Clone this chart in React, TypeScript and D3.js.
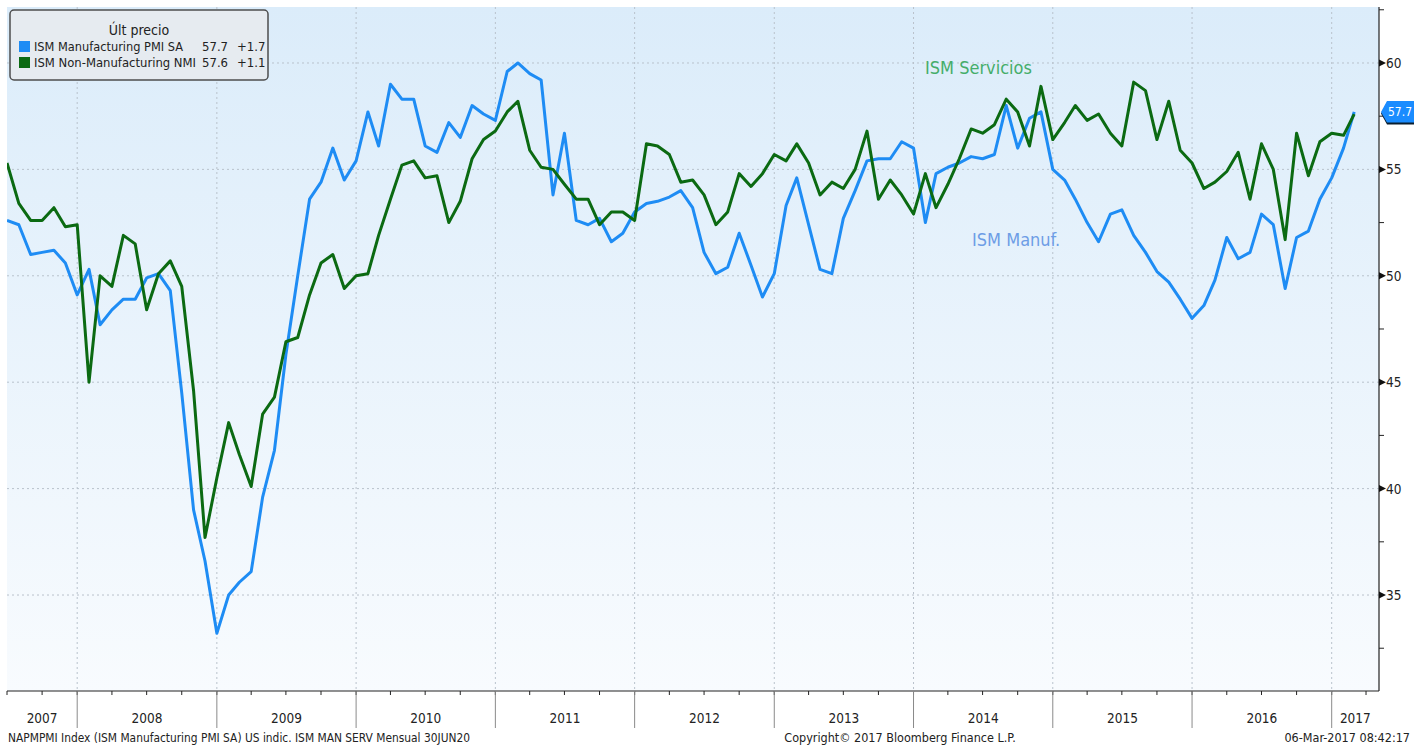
import React from "react";
import * as d3 from "d3";

// ---- Data (monthly, Jun 2007 .. Feb 2017) ----
const startYear = 2007;
const startMonth = 5; // June (0-based)

const manufacturing: number[] = [
  52.6, 52.4, 51.0, 51.1, 51.2, 50.6, 49.1,
  50.3, 47.7, 48.4, 48.9, 48.9, 49.9, 50.1, 49.3, 44.5, 39.0, 36.6, 33.2,
  35.0, 35.6, 36.1, 39.6, 41.8, 46.3, 50.0, 53.6, 54.4, 56.0, 54.5, 55.4,
  57.7, 56.1, 59.0, 58.3, 58.3, 56.1, 55.8, 57.2, 56.5, 58.0, 57.6, 57.3,
  59.6, 60.0, 59.5, 59.2, 53.8, 56.7, 52.6, 52.4, 52.7, 51.6, 52.0, 53.0,
  53.4, 53.5, 53.7, 54.0, 53.2, 51.1, 50.1, 50.4, 52.0, 50.5, 49.0, 50.1,
  53.3, 54.6, 52.4, 50.3, 50.1, 52.7, 54.0, 55.4, 55.5, 55.5, 56.3, 56.0,
  52.5, 54.8, 55.1, 55.3, 55.6, 55.5, 55.7, 58.0, 56.0, 57.4, 57.7, 55.0,
  54.5, 53.6, 52.5, 51.6, 52.9, 53.1, 51.9, 51.1, 50.2, 49.7, 48.9, 48.0,
  48.6, 49.8, 51.8, 50.8, 51.1, 52.9, 52.4, 49.4, 51.8, 52.1, 53.6, 54.6,
  56.0, 57.7,
];

const nonManufacturing: number[] = [
  55.3, 53.4, 52.6, 52.6, 53.2, 52.3, 52.4,
  45.0, 50.0, 49.5, 51.9, 51.5, 48.4, 50.1, 50.7, 49.5, 44.6, 37.7, 40.5,
  43.1, 41.6, 40.1, 43.5, 44.3, 46.9, 47.1, 49.1, 50.6, 51.0, 49.4, 50.0,
  50.1, 51.9, 53.6, 55.2, 55.4, 54.6, 54.7, 52.5, 53.5, 55.5, 56.4, 56.8,
  57.7, 58.2, 55.9, 55.1, 55.0, 54.3, 53.6, 53.6, 52.4, 53.0, 53.0, 52.6,
  56.2, 56.1, 55.7, 54.4, 54.5, 53.8, 52.4, 53.0, 54.8, 54.2, 54.8, 55.7,
  55.4, 56.2, 55.3, 53.8, 54.4, 54.1, 55.0, 56.8, 53.6, 54.5, 53.8, 52.9,
  54.8, 53.2, 54.3, 55.5, 56.9, 56.7, 57.1, 58.3, 57.7, 56.1, 58.9, 56.4,
  57.2, 58.0, 57.3, 57.6, 56.7, 56.1, 59.1, 58.7, 56.4, 58.2, 55.9, 55.3,
  54.1, 54.4, 54.9, 55.8, 53.6, 56.2, 55.0, 51.7, 56.7, 54.7, 56.3, 56.7,
  56.6, 57.6,
];

const yearLabels: number[] = [2007, 2008, 2009, 2010, 2011, 2012, 2013, 2014, 2015, 2016, 2017];
const yMajorTicks: number[] = [35, 40, 45, 50, 55, 60];
const yMinorTicks: number[] = [32.5, 37.5, 42.5, 47.5, 52.5, 57.5, 62.5];

const legendTitle = "Últ precio";
const seriesNames = ["ISM Manufacturing PMI SA", "ISM Non-Manufacturing NMI"];
const lastValues = ["57.7", "57.6"];
const changes = ["+1.7", "+1.1"];
const lastTag = 57.7;

const footerLeft = "NAPMPMI Index (ISM Manufacturing PMI SA) US indic. ISM MAN SERV  Mensual 30JUN20";
const footerMid = "Copyright\u00A9 2017 Bloomberg Finance L.P.";
const footerRight = "06-Mar-2017 08:42:17";

const BLUE = "#1e8cf4";
const GREEN = "#0b6a12";
const FONT = "'DejaVu Sans Condensed', 'DejaVu Sans', sans-serif";

export default function App() {
  const W = 1414, H = 745;
  const left = 7, right = 1379, top = 7, bottom = 691;

  // each monthly value plotted at the end of its month
  const dateOf = (i: number) => new Date(startYear, startMonth + i + 1, 1);
  const x = d3.scaleTime()
    .domain([new Date(2007, 6, 1), new Date(2017, 4, 5)])
    .range([left, right]);
  const y = d3.scaleLinear().domain([30.49, 62.63]).range([bottom, top]);

  const line = d3.line<number>()
    .x((_, i) => x(dateOf(i)))
    .y((d) => y(d));

  const yearStarts = yearLabels.slice(1).map((yr) => new Date(yr, 0, 1));
  const quarterTicks = d3.timeMonth.every(3)!.range(new Date(2007, 6, 1), new Date(2017, 4, 6))
    .filter((d) => d.getMonth() % 3 === 0);

  const dom = x.domain();
  const tagY = y(lastTag);

  return (
    <svg width={W} height={H} style={{ position: "absolute", left: 0, top: 0, background: "#fff" }}
      fontFamily={FONT}>
      <defs>
        <linearGradient id="bg" x1="0" y1="0" x2="0" y2="1">
          <stop offset="0%" stopColor="#dbecfa" />
          <stop offset="100%" stopColor="#f8fbfe" />
        </linearGradient>
        <clipPath id="plot">
          <rect x={left} y={top} width={right - left} height={bottom - top} />
        </clipPath>
      </defs>
      <rect x={left} y={top} width={right - left} height={bottom - top} fill="url(#bg)" />

      {/* gridlines */}
      {yMajorTicks.map((t) => (
        <line key={"gy" + t} x1={left} x2={right} y1={y(t)} y2={y(t)}
          stroke="#b9c2cc" strokeWidth={1} strokeDasharray="2,3" />
      ))}
      {yearStarts.map((d, i) => (
        <line key={"gx" + i} x1={x(d)} x2={x(d)} y1={top} y2={bottom}
          stroke="#b9c2cc" strokeWidth={1} strokeDasharray="2,3" />
      ))}

      {/* series */}
      <g clipPath="url(#plot)">
        <path d={line(manufacturing) || ""} fill="none" stroke={BLUE} strokeWidth={3} strokeLinejoin="round" />
        <path d={line(nonManufacturing) || ""} fill="none" stroke={GREEN} strokeWidth={3} strokeLinejoin="round" />
      </g>

      {/* annotations */}
      <text x={925} y={74} fontSize={18} fill="#45ad6a">ISM Servicios</text>
      <text x={972} y={246} fontSize={18} fill="#6d9de6">ISM Manuf.</text>

      {/* x axis */}
      <line x1={left} x2={right} y1={bottom} y2={bottom} stroke="#222" strokeWidth={1.2} />
      {quarterTicks.map((d, i) => (
        <line key={"qt" + i} x1={x(d)} x2={x(d)} y1={bottom} y2={bottom + 4} stroke="#222" strokeWidth={1} />
      ))}
      {yearStarts.map((d, i) => (
        <line key={"ys" + i} x1={x(d)} x2={x(d)} y1={bottom} y2={728} stroke="#8a8a8a" strokeWidth={1} />
      ))}
      {yearLabels.map((yr) => {
        const a = new Date(Math.max(+new Date(yr, 0, 1), +dom[0]));
        const b = new Date(Math.min(+new Date(yr + 1, 0, 1), +dom[1]));
        return (
          <text key={"yl" + yr} x={(x(a) + x(b)) / 2} y={723} fontSize={13.5} fill="#222" textAnchor="middle">
            {yr}
          </text>
        );
      })}

      {/* y axis */}
      <line x1={right} x2={right} y1={top} y2={bottom} stroke="#222" strokeWidth={1.2} />
      {yMinorTicks.map((t) => (
        <line key={"mt" + t} x1={right} x2={right + 5} y1={y(t)} y2={y(t)} stroke="#222" strokeWidth={1} />
      ))}
      {yMajorTicks.map((t) => (
        <g key={"yt" + t}>
          <polygon points={`${right},${y(t) - 3.5} ${right + 7},${y(t)} ${right},${y(t) + 3.5}`} fill="#111" />
          <text x={right + 7} y={y(t) + 5} fontSize={13.5} fill="#222">{t}</text>
        </g>
      ))}

      {/* last value tag */}
      <polygon
        points={`${right + 2},${tagY + 1.5} ${right + 8},${tagY - 9.5} ${W},${tagY - 9.5} ${W},${tagY + 12.5} ${right + 8},${tagY + 12.5}`}
        fill="#0b1e2e" />
      <polygon
        points={`${right + 2},${tagY} ${right + 8},${tagY - 11} ${W},${tagY - 11} ${W},${tagY + 10.5} ${right + 8},${tagY + 10.5}`}
        fill="#1a8cff" />
      <text x={right + 9} y={tagY + 4.5} fontSize={12.5} fill="#fff" textLength={24}
        lengthAdjust="spacingAndGlyphs">{lastTag.toFixed(1)}</text>

      {/* legend */}
      <rect x={10} y={10} width={258} height={70} rx={4} ry={4} fill="#e6ebf0" stroke="#4d4d4d" strokeWidth={1.5} />
      <text x={139} y={35} fontSize={14} fill="#222" textAnchor="middle">{legendTitle}</text>
      {seriesNames.map((name, i) => (
        <g key={"lg" + i}>
          <rect x={19} y={41 + i * 16} width={11} height={11} fill={i === 0 ? BLUE : GREEN} />
          <text x={34} y={51 + i * 16} fontSize={13} fill="#222" textLength={i === 0 ? 149 : 162}
            lengthAdjust="spacingAndGlyphs">{name}</text>
          <text x={202} y={51 + i * 16} fontSize={13} fill="#222">{lastValues[i]}</text>
          <text x={237} y={51 + i * 16} fontSize={13} fill="#222">{changes[i]}</text>
        </g>
      ))}

      {/* footer */}
      <text x={8} y={742} fontSize={12.5} fill="#222" textLength={462} lengthAdjust="spacingAndGlyphs">{footerLeft}</text>
      <text x={900} y={742} fontSize={12.5} fill="#222" textAnchor="middle">{footerMid}</text>
      <text x={1410} y={742} fontSize={12.5} fill="#222" textAnchor="end">{footerRight}</text>
    </svg>
  );
}
